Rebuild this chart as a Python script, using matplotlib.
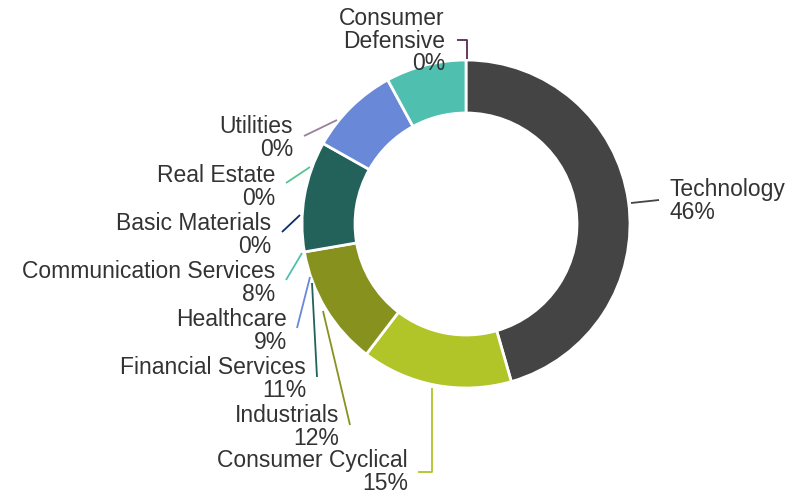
import matplotlib.pyplot as plt

plt.rcParams['font.family'] = ['Liberation Sans', 'DejaVu Sans']

# sector weights (%), clockwise from 12 o'clock
sectors = ["Technology", "Consumer Cyclical", "Industrials", "Financial Services",
           "Healthcare", "Communication Services", "Basic Materials", "Real Estate",
           "Utilities", "Consumer Defensive"]
weights = [46, 15, 12, 11, 9, 8, 0, 0, 0, 0]
colors = ["#444444", "#b1c428", "#87921e", "#22625a", "#6a88d8", "#4fc0b0",
          "#0b2d6b", "#55c493", "#9b7f9b", "#5b2a55"]

# label layout in pixel coords (image y down): anchor x, block center y, alignment
label_pos = {
    "Technology": (670, 201, "left"),
    "Consumer Cyclical": (408, 472, "right"),
    "Industrials": (339, 427, "right"),
    "Financial Services": (306, 379, "right"),
    "Healthcare": (287, 331, "right"),
    "Communication Services": (275, 283, "right"),
    "Basic Materials": (271, 235, "right"),
    "Real Estate": (275, 187, "right"),
    "Utilities": (293, 138, "right"),
    "Consumer Defensive": (445, 41, "right"),
}
label_text = {"Consumer Defensive": "Consumer\nDefensive"}
connectors = {
    "Technology": [(631, 203), (659, 200)],
    "Consumer Cyclical": [(432, 388), (432, 472), (418, 472)],
    "Industrials": [(323, 311), (350, 425)],
    "Financial Services": [(312, 283), (317, 377)],
    "Healthcare": [(310, 277), (297, 328)],
    "Communication Services": [(302, 253), (286, 280)],
    "Basic Materials": [(300, 215), (282, 232)],
    "Real Estate": [(310, 167), (286, 183)],
    "Utilities": [(337, 120), (304, 136)],
    "Consumer Defensive": [(467, 59), (467, 40), (457, 40)],
}

fig = plt.figure(figsize=(7.94, 4.95), dpi=100)
ax = fig.add_axes([0, 0, 1, 1])

vals = [w for w in weights if w > 0]
cols = [c for w, c in zip(weights, colors) if w > 0]
ax.pie(vals, colors=cols, center=(466, 224), radius=164, startangle=-90,
       counterclock=True, wedgeprops=dict(width=53, edgecolor="white", linewidth=2))

ax.set_xlim(0, 794)
ax.set_ylim(495, 0)
ax.set_aspect("equal")
ax.axis("off")

for name, w, c in zip(sectors, weights, colors):
    pts = connectors[name]
    ax.plot([p[0] for p in pts], [p[1] for p in pts], color=c, lw=1.3,
            solid_capstyle="butt")
    x, y, ha = label_pos[name]
    txt = label_text.get(name, name) + f"\n{w}%"
    ax.text(x, y, txt, ha=ha, va="center", multialignment=ha, fontsize=16.5,
            color="#333333", linespacing=0.95)

fig.savefig("out.png", dpi=100)
